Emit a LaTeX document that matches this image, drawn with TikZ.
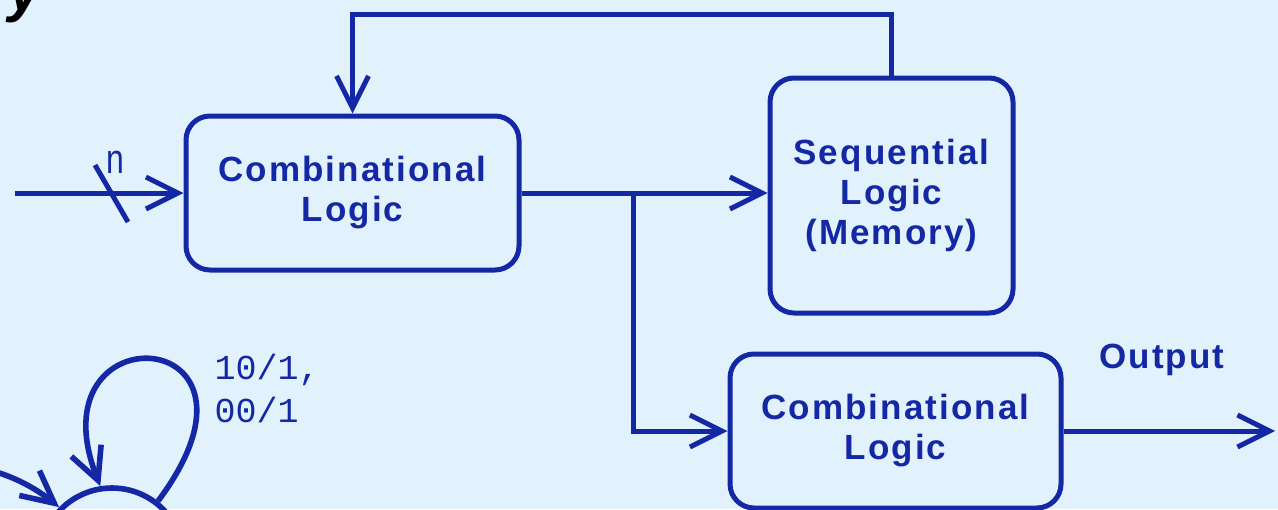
\documentclass[tikz,border=0pt]{standalone}
\usepackage{fontspec}
\usepackage{xcolor}
\usepackage{tikz}
\usetikzlibrary{arrows.meta}
\newfontfamily\blockfont[LetterSpace=6]{Liberation Sans}
\newfontfamily\labelmono{Liberation Mono}
\definecolor{bgblue}{RGB}{226,242,252}
\definecolor{wire}{RGB}{20,40,165}

\begin{document}
\begin{tikzpicture}[x=0.5pt, y=-0.5pt, line width=2.5pt, color=wire,
    >={Straight Barb[length=16pt,width=16pt]},
    block/.style={draw, rounded corners=12pt, align=center, inner sep=3pt,
        font=\blockfont\bfseries\fontsize{17.5}{20}\selectfont},
    state/.style={draw, circle, minimum size=72pt, line width=2.8pt}]
        \useasboundingbox (0,0) rectangle (1278,509);
        \clip (0,0) rectangle (1278,509);
        \fill[bgblue] (0,0) rectangle (1278,509);

        % Title (cut off)
        \node[anchor=base west, inner sep=0, text=black,
            font=\blockfont\bfseries\itshape\fontsize{30}{30}\selectfont] (title) at (6,10) {y};

        % Blocks
        \node[block, minimum width=166.5pt, minimum height=77pt] (comb1) at (352.5,193) {Combinational\\Logic};
        \node[block, minimum width=121.5pt, minimum height=117.5pt] (seq) at (891.5,195.5) {Sequential\\Logic\\(Memory)};
        \node[block, minimum width=165.5pt, minimum height=77pt] (comb2) at (895.5,431) {Combinational\\Logic};

        % Input bus
        \coordinate (in) at (15,193);
        \draw[->] (in) -- (comb1);
        \draw (95,165) -- (128,222);
        \node[font=\blockfont\fontsize{16}{16}\selectfont, yscale=1.3] (width) at (115,162) {n};

        % Connections
        \coordinate (split) at (633,193);
        \coordinate (fbtop) at (0,14);
        \draw[->] (comb1.east) -- (comb1.east -| seq.west);
        \draw[->] (split) |- (comb2.west);
        \draw[->] (seq.north) -- (seq.north |- fbtop) -| (comb1.north);

        % Output
        \coordinate (out) at (1275,431);
        \draw[->] (comb2.east) -- (out);
        \node[font=\blockfont\bfseries\fontsize{17.5}{20}\selectfont] (outlabel) at (1162,360) {Output};

        % State diagram (cut off)
        \node[state] (s0) at (112,560) {};
        \coordinate (init) at (-30,466);
        \draw[->, line width=2.8pt] (s0.52) .. controls (292,322) and (30,308) .. (s0.99);
        \draw[->, line width=2.8pt] (init) .. controls (10,472) and (38,490) .. (s0.135);
        \node[anchor=north west, inner sep=0, align=left,
            font=\labelmono\fontsize{17.5}{21.5}\selectfont] (looplabel) at (212,352) {10/1,\\00/1};
    \end{tikzpicture}
\end{document}
